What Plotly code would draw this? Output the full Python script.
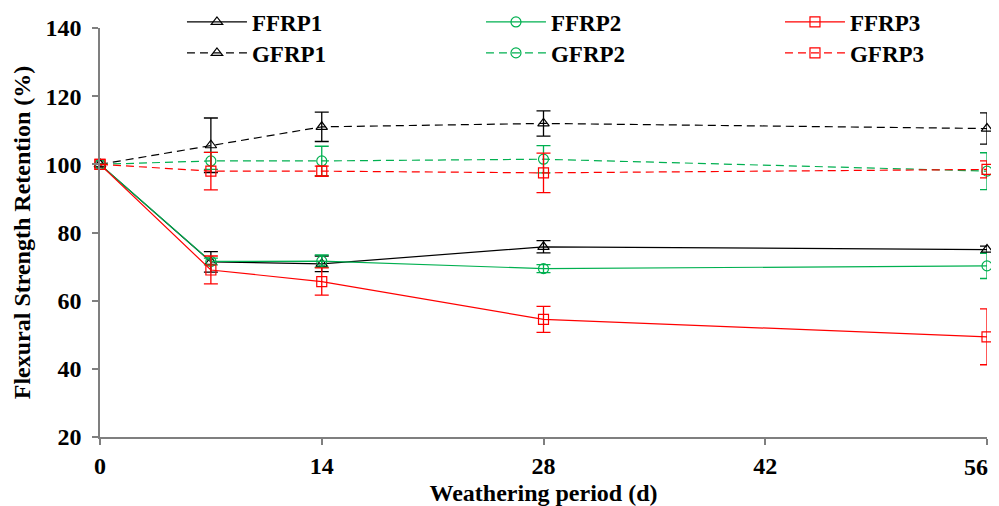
import plotly.graph_objects as go

days = [0, 7, 14, 28, 56]

ffrp1 = [100, 71.4, 70.8, 75.8, 75.0]
ffrp1_err = [0, 3.0, 2.3, 1.8, 1.0]
ffrp2 = [100, 71.5, 71.6, 69.4, 70.2]
ffrp2_err = [0, 1.0, 1.8, 1.2, 3.7]
ffrp3 = [100, 69.0, 65.6, 54.5, 49.4]
ffrp3_err = [0, 4.1, 4.0, 3.8, 8.2]

gfrp1 = [100, 105.6, 111.0, 112.0, 110.5]
gfrp1_err = [0, 8.0, 4.3, 3.7, 4.6]
gfrp2 = [100, 101.0, 101.0, 101.5, 98.0]
gfrp2_err = [0, 2.5, 4.3, 4.0, 5.4]
gfrp3 = [100, 98.0, 98.0, 97.5, 98.5]
gfrp3_err = [0, 5.5, 1.5, 5.8, 2.5]

x_ticks = [0, 14, 28, 42, 56]
y_ticks = [20, 40, 60, 80, 100, 120, 140]

BLACK = "#000000"
GREEN = "#00B050"
RED = "#FF0000"
FONT = "Liberation Serif"

series = [
    ("FFRP1", ffrp1, ffrp1_err, BLACK, "triangle-up-open", "solid", "legend"),
    ("FFRP2", ffrp2, ffrp2_err, GREEN, "circle-open", "solid", "legend2"),
    ("FFRP3", ffrp3, ffrp3_err, RED, "square-open", "solid", "legend3"),
    ("GFRP1", gfrp1, gfrp1_err, BLACK, "triangle-up-open", "8px,5px", "legend4"),
    ("GFRP2", gfrp2, gfrp2_err, GREEN, "circle-open", "8px,5px", "legend5"),
    ("GFRP3", gfrp3, gfrp3_err, RED, "square-open", "8px,5px", "legend6"),
]

fig = go.Figure()
for name, ys, errs, col, sym, dash, lg in series:
    fig.add_trace(go.Scatter(
        x=days, y=ys, name=name, mode="lines+markers", legend=lg,
        line=dict(color=col, width=1.2, dash=dash),
        marker=dict(symbol=sym, size=10, color=col, line=dict(width=1.2, color=col)),
        error_y=dict(type="data", array=errs, visible=True, color=col, thickness=1.3, width=7),
        cliponaxis=False,
    ))

legfont = dict(family=FONT, size=23, color="black", weight="bold")
def leg(x, y):
    return dict(orientation="v", x=x, y=y, xanchor="left", yanchor="middle",
                xref="paper", yref="paper", font=legfont, itemwidth=60,
                bgcolor="rgba(0,0,0,0)", tracegroupgap=0)

tickfont = dict(family=FONT, size=24, color="black", weight="bold")
# last x tick label drawn as an annotation so it is not cut at the page edge
x_ticktext = [str(v) for v in x_ticks[:-1]] + [""]

row1, row2 = 1.0147, 0.939
fig.update_layout(
    width=991, height=498,
    margin=dict(l=92, r=12, t=20, b=69, autoexpand=False),
    paper_bgcolor="white", plot_bgcolor="white",
    font=dict(family=FONT, color="black", size=20),
    showlegend=True,
    legend=leg(0.0924, row1),
    legend2=leg(0.4295, row1),
    legend3=leg(0.7666, row1),
    legend4=leg(0.0924, row2),
    legend5=leg(0.4295, row2),
    legend6=leg(0.7666, row2),
    xaxis=dict(
        range=[0, 56], tickvals=x_ticks, ticktext=x_ticktext,
        showgrid=False, zeroline=False, showline=True, linecolor="#7f7f7f", linewidth=1.5,
        ticks="outside", ticklen=6, tickcolor="#7f7f7f", tickwidth=1.5, ticklabelstandoff=0,
        tickfont=tickfont,
        automargin=False,
        title=dict(text="Weathering period (d)", standoff=15,
                   font=dict(family=FONT, size=24, color="black", weight="bold")),
    ),
    yaxis=dict(
        range=[20, 140], tickvals=y_ticks, ticktext=[str(v) for v in y_ticks],
        showgrid=False, zeroline=False, showline=True, linecolor="#7f7f7f", linewidth=1.5,
        ticks="outside", ticklen=6, tickcolor="#7f7f7f", tickwidth=1.5, ticklabelstandoff=6,
        tickfont=tickfont,
        automargin=False,
        title=dict(text="Flexural Strength Retention (%)", standoff=8,
                   font=dict(family=FONT, size=24, color="black", weight="bold")),
    ),
)
fig.add_annotation(
    x=x_ticks[-1], xref="x", y=0, yref="paper", text=str(x_ticks[-1]),
    showarrow=False, xanchor="right", yanchor="top", xshift=3, yshift=-15,
    font=tickfont,
)

fig.write_html("out.html")
